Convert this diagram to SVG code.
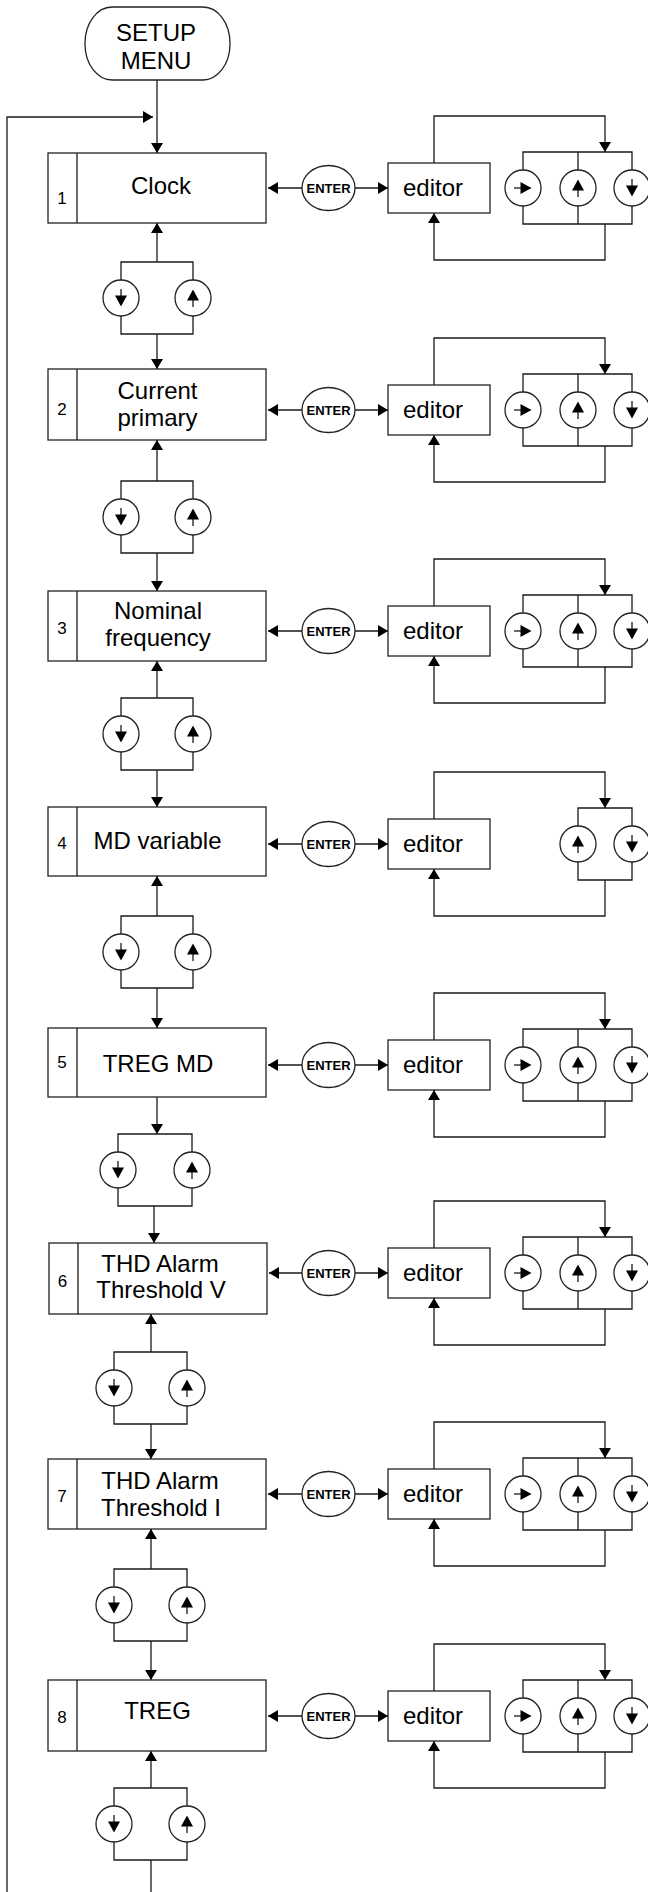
<svg xmlns="http://www.w3.org/2000/svg" width="648" height="1892" viewBox="0 0 648 1892">
<style>
.c{fill:none;stroke:#1a1a1a;stroke-width:1.3}
.a{marker-end:url(#ah)}
.b{fill:#fff;stroke:#222;stroke-width:1.3}
.t{font-family:"Liberation Sans",Arial,sans-serif;font-size:24px;fill:#000;text-anchor:middle}
.n{font-family:"Liberation Sans",Arial,sans-serif;font-size:17px;fill:#000;text-anchor:middle}
.e{font-family:"Liberation Sans",Arial,sans-serif;font-size:13px;font-weight:bold;fill:#000;text-anchor:middle}
.g{fill:#000;stroke:none}
</style>
<defs>
<marker id="ah" viewBox="0 0 10 12" refX="10" refY="6" markerWidth="10" markerHeight="12" markerUnits="userSpaceOnUse" orient="auto"><path d="M0,0 L10,6 L0,12 z" fill="#000"/></marker>
<g id="kd"><circle r="18" class="b"/><line x1="0" y1="-9" x2="0" y2="0" class="c"/><polygon points="-6,-2.5 6,-2.5 0,8.5" class="g"/></g>
<g id="ku"><circle r="18" class="b"/><line x1="0" y1="9" x2="0" y2="0" class="c"/><polygon points="-6,2.5 6,2.5 0,-8.5" class="g"/></g>
<g id="kr"><circle r="18" class="b"/><line x1="-9" y1="0" x2="0" y2="0" class="c"/><polygon points="-2.5,-6 -2.5,6 8.5,0" class="g"/></g>
</defs>

<g id="connectors">
<path class="c a" d="M157,80 V153"/>
<path class="c a" d="M7,1892 V117 H153"/>
<!-- pair 1 -->
<path class="c a" d="M157,262 V223"/>
<path class="c" d="M121,280 V262 H193 V280 M121,316 V334 H193 V316"/>
<path class="c a" d="M157,334 V369"/>
<!-- pair 2 -->
<path class="c a" d="M157,481 V440"/>
<path class="c" d="M121,499 V481 H193 V499 M121,535 V553 H193 V535"/>
<path class="c a" d="M157,553 V591"/>
<!-- pair 3 -->
<path class="c a" d="M157,698 V661"/>
<path class="c" d="M121,716 V698 H193 V716 M121,752 V770 H193 V752"/>
<path class="c a" d="M157,770 V807"/>
<!-- pair 4 -->
<path class="c a" d="M157,916 V876"/>
<path class="c" d="M121,934 V916 H193 V934 M121,970 V988 H193 V970"/>
<path class="c a" d="M157,988 V1028"/>
<!-- pair 5 -->
<path class="c a" d="M157,1097 V1134"/>
<path class="c" d="M118,1152 V1134 H192 V1152 M118,1188 V1206 H192 V1188"/>
<path class="c a" d="M154,1206 V1243"/>
<!-- pair 6 -->
<path class="c a" d="M151,1352 V1314"/>
<path class="c" d="M114,1370 V1352 H187 V1370 M114,1406 V1424 H187 V1406"/>
<path class="c a" d="M151,1424 V1459"/>
<!-- pair 7 -->
<path class="c a" d="M151,1569 V1529"/>
<path class="c" d="M114,1587 V1569 H187 V1587 M114,1623 V1641 H187 V1623"/>
<path class="c a" d="M151,1641 V1680"/>
<!-- pair 8 -->
<path class="c a" d="M151,1788 V1751"/>
<path class="c" d="M114,1806 V1788 H187 V1806 M114,1842 V1860 H187 V1842"/>
<path class="c" d="M151,1860 V1892"/>
<!-- editor side, per section -->
<g transform="translate(0,188)"><path class="c a" d="M302,0 H268"/><path class="c a" d="M355,0 H388"/><path class="c a" d="M434,-25 V-72 H605 V-36"/><path class="c" d="M523,-18 V-36 H632 V-18 M578,-36 V-18 M523,18 V36 H632 V18 M578,36 V18"/><path class="c a" d="M605,36 V72 H434 V25"/></g>
<g transform="translate(0,410)"><path class="c a" d="M302,0 H268"/><path class="c a" d="M355,0 H388"/><path class="c a" d="M434,-25 V-72 H605 V-36"/><path class="c" d="M523,-18 V-36 H632 V-18 M578,-36 V-18 M523,18 V36 H632 V18 M578,36 V18"/><path class="c a" d="M605,36 V72 H434 V25"/></g>
<g transform="translate(0,631)"><path class="c a" d="M302,0 H268"/><path class="c a" d="M355,0 H388"/><path class="c a" d="M434,-25 V-72 H605 V-36"/><path class="c" d="M523,-18 V-36 H632 V-18 M578,-36 V-18 M523,18 V36 H632 V18 M578,36 V18"/><path class="c a" d="M605,36 V72 H434 V25"/></g>
<g transform="translate(0,844)"><path class="c a" d="M302,0 H268"/><path class="c a" d="M355,0 H388"/><path class="c a" d="M434,-25 V-72 H605 V-36"/><path class="c" d="M578,-18 V-36 H632 V-18 M578,18 V36 H632 V18"/><path class="c a" d="M605,36 V72 H434 V25"/></g>
<g transform="translate(0,1065)"><path class="c a" d="M302,0 H268"/><path class="c a" d="M355,0 H388"/><path class="c a" d="M434,-25 V-72 H605 V-36"/><path class="c" d="M523,-18 V-36 H632 V-18 M578,-36 V-18 M523,18 V36 H632 V18 M578,36 V18"/><path class="c a" d="M605,36 V72 H434 V25"/></g>
<g transform="translate(0,1273)"><path class="c a" d="M302,0 H269"/><path class="c a" d="M355,0 H388"/><path class="c a" d="M434,-25 V-72 H605 V-36"/><path class="c" d="M523,-18 V-36 H632 V-18 M578,-36 V-18 M523,18 V36 H632 V18 M578,36 V18"/><path class="c a" d="M605,36 V72 H434 V25"/></g>
<g transform="translate(0,1494)"><path class="c a" d="M302,0 H268"/><path class="c a" d="M355,0 H388"/><path class="c a" d="M434,-25 V-72 H605 V-36"/><path class="c" d="M523,-18 V-36 H632 V-18 M578,-36 V-18 M523,18 V36 H632 V18 M578,36 V18"/><path class="c a" d="M605,36 V72 H434 V25"/></g>
<g transform="translate(0,1716)"><path class="c a" d="M302,0 H268"/><path class="c a" d="M355,0 H388"/><path class="c a" d="M434,-25 V-72 H605 V-36"/><path class="c" d="M523,-18 V-36 H632 V-18 M578,-36 V-18 M523,18 V36 H632 V18 M578,36 V18"/><path class="c a" d="M605,36 V72 H434 V25"/></g>
</g>

<g id="setup-menu">
<rect x="85" y="7" width="145" height="73" rx="27" ry="36" class="b"/>
<text class="t" x="156" y="41">SETUP</text>
<text class="t" x="156" y="69">MENU</text>
</g>

<!-- menu boxes -->
<g id="box1"><rect x="48" y="153" width="218" height="70" class="b"/><line x1="77" y1="153" x2="77" y2="223" class="c"/><text class="n" x="62" y="204">1</text><text class="t" x="161" y="194">Clock</text></g>
<g id="box2"><rect x="48" y="369" width="218" height="71" class="b"/><line x1="77" y1="369" x2="77" y2="440" class="c"/><text class="n" x="62" y="415">2</text><text class="t" x="157.5" y="399">Current</text><text class="t" x="157.5" y="426">primary</text></g>
<g id="box3"><rect x="48" y="591" width="218" height="70" class="b"/><line x1="77" y1="591" x2="77" y2="661" class="c"/><text class="n" x="62" y="634">3</text><text class="t" x="158" y="619">Nominal</text><text class="t" x="158" y="646">frequency</text></g>
<g id="box4"><rect x="48" y="807" width="218" height="69" class="b"/><line x1="77" y1="807" x2="77" y2="876" class="c"/><text class="n" x="62" y="849">4</text><text class="t" x="157.5" y="849">MD variable</text></g>
<g id="box5"><rect x="48" y="1028" width="218" height="69" class="b"/><line x1="77" y1="1028" x2="77" y2="1097" class="c"/><text class="n" x="62" y="1068">5</text><text class="t" x="158" y="1072">TREG MD</text></g>
<g id="box6"><rect x="49" y="1243" width="218" height="71" class="b"/><line x1="78" y1="1243" x2="78" y2="1314" class="c"/><text class="n" x="62.5" y="1287">6</text><text class="t" x="160" y="1272">THD Alarm</text><text class="t" x="161" y="1298">Threshold V</text></g>
<g id="box7"><rect x="48" y="1459" width="218" height="70" class="b"/><line x1="77" y1="1459" x2="77" y2="1529" class="c"/><text class="n" x="62" y="1502">7</text><text class="t" x="160" y="1489">THD Alarm</text><text class="t" x="161" y="1516">Threshold I</text></g>
<g id="box8"><rect x="48" y="1680" width="218" height="71" class="b"/><line x1="77" y1="1680" x2="77" y2="1751" class="c"/><text class="n" x="62" y="1723">8</text><text class="t" x="157.5" y="1719">TREG</text></g>

<!-- navigation key pairs -->
<g id="pair1"><use href="#kd" x="121" y="298"/><use href="#ku" x="193" y="298"/></g>
<g id="pair2"><use href="#kd" x="121" y="517"/><use href="#ku" x="193" y="517"/></g>
<g id="pair3"><use href="#kd" x="121" y="734"/><use href="#ku" x="193" y="734"/></g>
<g id="pair4"><use href="#kd" x="121" y="952"/><use href="#ku" x="193" y="952"/></g>
<g id="pair5"><use href="#kd" x="118" y="1170"/><use href="#ku" x="192" y="1170"/></g>
<g id="pair6"><use href="#kd" x="114" y="1388"/><use href="#ku" x="187" y="1388"/></g>
<g id="pair7"><use href="#kd" x="114" y="1605"/><use href="#ku" x="187" y="1605"/></g>
<g id="pair8"><use href="#kd" x="114" y="1824"/><use href="#ku" x="187" y="1824"/></g>

<!-- enter / editor / keys per section -->
<g id="enter1"><ellipse cx="328.5" cy="188" rx="26.5" ry="22.5" class="b"/><text class="e" x="328.5" y="192.5">ENTER</text></g>
<g id="editor1"><rect x="388" y="163" width="102" height="50" class="b"/><text class="t" x="433" y="196">editor</text></g>
<g id="keys1"><use href="#kr" x="523" y="188"/><use href="#ku" x="578" y="188"/><use href="#kd" x="632" y="188"/></g>

<g id="enter2"><ellipse cx="328.5" cy="410" rx="26.5" ry="22.5" class="b"/><text class="e" x="328.5" y="414.5">ENTER</text></g>
<g id="editor2"><rect x="388" y="385" width="102" height="50" class="b"/><text class="t" x="433" y="418">editor</text></g>
<g id="keys2"><use href="#kr" x="523" y="410"/><use href="#ku" x="578" y="410"/><use href="#kd" x="632" y="410"/></g>

<g id="enter3"><ellipse cx="328.5" cy="631" rx="26.5" ry="22.5" class="b"/><text class="e" x="328.5" y="635.5">ENTER</text></g>
<g id="editor3"><rect x="388" y="606" width="102" height="50" class="b"/><text class="t" x="433" y="639">editor</text></g>
<g id="keys3"><use href="#kr" x="523" y="631"/><use href="#ku" x="578" y="631"/><use href="#kd" x="632" y="631"/></g>

<g id="enter4"><ellipse cx="328.5" cy="844" rx="26.5" ry="22.5" class="b"/><text class="e" x="328.5" y="848.5">ENTER</text></g>
<g id="editor4"><rect x="388" y="819" width="102" height="50" class="b"/><text class="t" x="433" y="852">editor</text></g>
<g id="keys4"><use href="#ku" x="578" y="844"/><use href="#kd" x="632" y="844"/></g>

<g id="enter5"><ellipse cx="328.5" cy="1065" rx="26.5" ry="22.5" class="b"/><text class="e" x="328.5" y="1069.5">ENTER</text></g>
<g id="editor5"><rect x="388" y="1040" width="102" height="50" class="b"/><text class="t" x="433" y="1073">editor</text></g>
<g id="keys5"><use href="#kr" x="523" y="1065"/><use href="#ku" x="578" y="1065"/><use href="#kd" x="632" y="1065"/></g>

<g id="enter6"><ellipse cx="328.5" cy="1273" rx="26.5" ry="22.5" class="b"/><text class="e" x="328.5" y="1277.5">ENTER</text></g>
<g id="editor6"><rect x="388" y="1248" width="102" height="50" class="b"/><text class="t" x="433" y="1281">editor</text></g>
<g id="keys6"><use href="#kr" x="523" y="1273"/><use href="#ku" x="578" y="1273"/><use href="#kd" x="632" y="1273"/></g>

<g id="enter7"><ellipse cx="328.5" cy="1494" rx="26.5" ry="22.5" class="b"/><text class="e" x="328.5" y="1498.5">ENTER</text></g>
<g id="editor7"><rect x="388" y="1469" width="102" height="50" class="b"/><text class="t" x="433" y="1502">editor</text></g>
<g id="keys7"><use href="#kr" x="523" y="1494"/><use href="#ku" x="578" y="1494"/><use href="#kd" x="632" y="1494"/></g>

<g id="enter8"><ellipse cx="328.5" cy="1716" rx="26.5" ry="22.5" class="b"/><text class="e" x="328.5" y="1720.5">ENTER</text></g>
<g id="editor8"><rect x="388" y="1691" width="102" height="50" class="b"/><text class="t" x="433" y="1724">editor</text></g>
<g id="keys8"><use href="#kr" x="523" y="1716"/><use href="#ku" x="578" y="1716"/><use href="#kd" x="632" y="1716"/></g>
</svg>
